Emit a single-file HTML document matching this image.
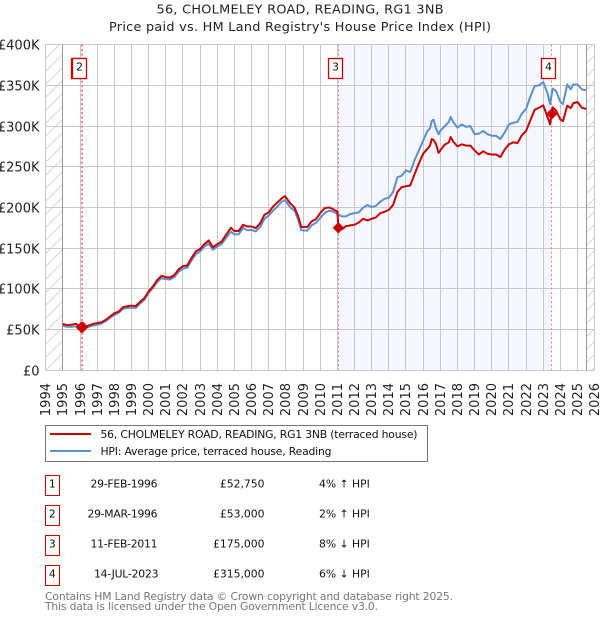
<!DOCTYPE html>
<html>
<head>
<meta charset="utf-8">
<title>56, Cholmeley Road price chart</title>
<style>
html,body{margin:0;padding:0;background:#fff;}
svg{display:block;font-family:"DejaVu Sans","Liberation Sans",sans-serif;}
</style>
</head>
<body>
<svg id="chart" xmlns="http://www.w3.org/2000/svg" width="600" height="620" viewBox="0 0 600 620">
<defs>
<pattern id="hatch" patternUnits="userSpaceOnUse" width="13" height="13">
<path d="M-1 14L14 -1" stroke="#d4d4d4" stroke-width="1" fill="none"/>
</pattern>
</defs>
<text x="300" y="13.5" text-anchor="middle" font-size="12.8" fill="#222" textLength="287" lengthAdjust="spacing">56, CHOLMELEY ROAD, READING, RG1 3NB</text>
<text x="300" y="31" text-anchor="middle" font-size="12.8" fill="#222" textLength="382" lengthAdjust="spacing">Price paid vs. HM Land Registry's House Price Index (HPI)</text>
<g id="plot"></g>

<g>
<rect x="45.5" y="425.5" width="382" height="36" fill="#fff" stroke="#777" stroke-width="1"/>
<line x1="50" x2="91" y1="434" y2="434" stroke="#cc0000" stroke-width="2"/>
<text x="100.5" y="438" font-size="10.8" fill="#111" textLength="317" lengthAdjust="spacing">56, CHOLMELEY ROAD, READING, RG1 3NB (terraced house)</text>
<line x1="50" x2="91" y1="451" y2="451" stroke="#5b8fd1" stroke-width="2"/>
<text x="100.5" y="455" font-size="10.8" fill="#111" textLength="231" lengthAdjust="spacing">HPI: Average price, terraced house, Reading</text>
</g>

<g font-size="10.8" fill="#111">
<g>
<rect x="45.5" y="475.5" width="14" height="20" fill="#fff" stroke="#cc0000" stroke-width="1"/>
<text x="52.3" y="487.5" text-anchor="middle">1</text>
<text x="157.5" y="487.5" text-anchor="end" textLength="67" lengthAdjust="spacing">29-FEB-1996</text>
<text x="264.5" y="487.5" text-anchor="end">£52,750</text>
<text x="319" y="487.5">4% ↑ HPI</text>
</g>
<g>
<rect x="45.5" y="505.5" width="14" height="20" fill="#fff" stroke="#cc0000" stroke-width="1"/>
<text x="52.3" y="517.5" text-anchor="middle">2</text>
<text x="157.5" y="517.5" text-anchor="end" textLength="70" lengthAdjust="spacing">29-MAR-1996</text>
<text x="264.5" y="517.5" text-anchor="end">£53,000</text>
<text x="319" y="517.5">2% ↑ HPI</text>
</g>
<g>
<rect x="45.5" y="535.5" width="14" height="20" fill="#fff" stroke="#cc0000" stroke-width="1"/>
<text x="52.3" y="547.5" text-anchor="middle">3</text>
<text x="157.5" y="547.5" text-anchor="end" textLength="67" lengthAdjust="spacing">11-FEB-2011</text>
<text x="264.5" y="547.5" text-anchor="end">£175,000</text>
<text x="319" y="547.5">8% ↓ HPI</text>
</g>
<g>
<rect x="45.5" y="565.5" width="14" height="20" fill="#fff" stroke="#cc0000" stroke-width="1"/>
<text x="52.3" y="577.5" text-anchor="middle">4</text>
<text x="158.5" y="577.5" text-anchor="end" textLength="64.5" lengthAdjust="spacing">14-JUL-2023</text>
<text x="264.5" y="577.5" text-anchor="end">£315,000</text>
<text x="319" y="577.5">6% ↓ HPI</text>
</g>
</g>

<text x="45" y="600" font-size="10.8" fill="#777" textLength="408" lengthAdjust="spacing">Contains HM Land Registry data © Crown copyright and database right 2025.</text>
<text x="45" y="610" font-size="10.8" fill="#777" textLength="333" lengthAdjust="spacing">This data is licensed under the Open Government Licence v3.0.</text>

<script>
var yearTicks = [1994,1995,1996,1997,1998,1999,2000,2001,2002,2003,2004,2005,2006,2007,2008,2009,2010,2011,2012,2013,2014,2015,2016,2017,2018,2019,2020,2021,2022,2023,2024,2025,2026];
var priceTicks = [0,50,100,150,200,250,300,350,400];
var priceTickLabels = ["£0","£50K","£100K","£150K","£200K","£250K","£300K","£350K","£400K"];
var dataStart = 1995;
var dataEnd = 2025.5;
var dates = [1995,1995.25,1995.5,1995.75,1996,1996.12,1996.25,1996.5,1996.75,1997,1997.25,1997.5,1997.75,1998,1998.25,1998.5,1998.75,1999,1999.25,1999.5,1999.75,2000,2000.25,2000.5,2000.75,2001,2001.25,2001.5,2001.75,2002,2002.25,2002.5,2002.75,2003,2003.25,2003.5,2003.75,2004,2004.25,2004.5,2004.8,2005,2005.25,2005.5,2005.75,2006,2006.25,2006.5,2006.75,2007,2007.25,2007.5,2007.75,2007.95,2008.25,2008.5,2008.7,2008.9,2009.25,2009.5,2009.75,2010,2010.25,2010.5,2010.75,2011,2011.06,2011.25,2011.5,2011.75,2012,2012.25,2012.5,2012.75,2013,2013.25,2013.5,2013.75,2014,2014.25,2014.5,2014.75,2015,2015.25,2015.5,2015.75,2016,2016.25,2016.4,2016.5,2016.6,2016.75,2016.9,2017,2017.25,2017.5,2017.6,2017.75,2018,2018.25,2018.5,2018.75,2019,2019.25,2019.5,2019.75,2020,2020.25,2020.5,2020.75,2021,2021.25,2021.5,2021.75,2022,2022.25,2022.5,2022.75,2023,2023.25,2023.4,2023.55,2023.75,2024,2024.15,2024.4,2024.6,2024.75,2025,2025.25,2025.5];
var pricePaid = [57,55.5,56,57,54.5,52.75,53,55,57,58,59,62,66,70,72,77.5,78.7,79.5,79,84,88.5,97,103,111,116,114.5,114,117,124,128,128.7,138,146,149,155,159.5,151,155,158,166,175,171,171,178.7,176.6,176.6,174.6,180.7,191,194,201,206,211,214,205,200,190,176,176,183,185.6,193,199,200,198,195,175,173,177,178,178.7,181.5,186,184,186,187.7,193,194.7,197,203,219,225,226,227,241,254,266,272,276,284,283,278,267,270,277,280,286.5,281,275,277.5,276,276,270,265,269,266,265,265,262,271,277.5,280,279,288.5,294,307,320,322.5,325.4,311,302,323,319,308,306,325,322,328,329.5,322.5,321];
var hpiIndex = [54.5,53.5,53.5,54,52,50.5,51.5,53.5,55,56,57.5,60.5,64.5,68,70.5,75.5,76.5,77,76.5,82,86.5,95,101,108.5,113,112,111.5,114.5,121,125,126,135,142.5,146,152,155.5,148,152,155,162,170,167,167,175,172,172.5,170.5,176,186,190,196,201,207,209,200,196,186,172,171.5,178,181,187,193,196,195,192,191,189,189,192,193,194,199.7,203,200.5,202,207,210.6,212,219,237,239,245.5,243.5,258,270,282,294,297,306,308,297,290,294,299.6,305,311,305,298,302,299,300,290,290.6,294,290,288,288,284,292,302,304,305,315,321,336,349,350,354,340,327,346,343,329.5,327,351,345,351,351,345,344];
var saleLabels = ["1","2","3","4"];
var saleDates = [1996.08,1996.16,2011.06,2023.5];
var salePrices = [52.75,53,175,315];
var shadedFrom = 2011.06;
var shadedTo = 2023.5;

var NS = "http://www.w3.org/2000/svg";
var plot = document.getElementById("plot");
var X0 = 45.7, X1 = 594.7, Y0 = 370.3, Y1 = 44.6;
function xScale(year){ return X0 + (year - 1994) * (X1 - X0) / 32; }
function yScale(value){ return Y0 - value * (Y0 - Y1) / 400; }
function make(tag, attrs, parent){
  var el = document.createElementNS(NS, tag);
  for (var k in attrs) el.setAttribute(k, attrs[k]);
  (parent || plot).appendChild(el);
  return el;
}
function snap(v){ return Math.round(v - 0.5) + 0.5; }

var shade = make("rect", {x:xScale(shadedFrom), y:Y1, width:xScale(shadedTo)-xScale(shadedFrom), height:Y0-Y1, fill:"#f4f7ff"});



var hatchLeft = make("rect", {x:X0, y:Y1, width:xScale(dataStart)-X0, height:Y0-Y1, fill:"url(#hatch)"});


var hatchRight = make("rect", {x:xScale(dataEnd), y:Y1, width:X1-xScale(dataEnd), height:Y0-Y1, fill:"url(#hatch)"});



yearTicks.forEach(function(year){
  var px = snap(xScale(year));
  var line = make("line", {x1:px, x2:px, y1:Y1, y2:Y0, stroke:"#c8c8c8", "stroke-width":1});
  
  
  var label = make("text", {transform:"translate("+(px+4.5)+",383) rotate(-90)", "text-anchor":"end", "font-size":13, fill:"#222"});
  label.textContent = year;
  
  
});

priceTicks.forEach(function(value, i){
  var py = snap(yScale(value));
  var line = make("line", {x1:X0, x2:X1, y1:py, y2:py, stroke:"#c8c8c8", "stroke-width":1});
  
  
  var label = make("text", {x:39.5, y:py+4.8, "text-anchor":"end", "font-size":13, fill:"#222"});
  label.textContent = priceTickLabels[i];
  
  
});

[dataStart, dataEnd].forEach(function(year){
  var px = snap(xScale(year));
  var line = make("line", {x1:px, x2:px, y1:Y1, y2:Y0, stroke:"#999", "stroke-width":1});
  
  
});

saleDates.forEach(function(year, i){
  var px = snap(xScale(year));
  var line = make("line", {x1:px, x2:px, y1:Y1, y2:Y0, stroke:"#ff7f7f", "stroke-width":1, "stroke-dasharray":"2,2.5"});
  
  
});

function pathFrom(values){
  return values.map(function(v, i){
    return (i ? "L" : "M") + xScale(dates[i]).toFixed(2) + " " + yScale(v).toFixed(2);
  }).join("");
}
var hpiLine = make("path", {d:pathFrom(hpiIndex), fill:"none", stroke:"#5b8fd1", "stroke-width":2, "stroke-linejoin":"round"});


var priceLine = make("path", {d:pathFrom(pricePaid), fill:"none", stroke:"#cc0000", "stroke-width":2, "stroke-linejoin":"round"});



saleDates.forEach(function(year, i){
  var px = xScale(year), py = yScale(salePrices[i]), r = 5;
  var point = make("path", {d:"M"+px+" "+(py-r)+"L"+(px+r)+" "+py+"L"+px+" "+(py+r)+"L"+(px-r)+" "+py+"Z", fill:"#cc0000", stroke:"#cc0000", "stroke-width":1});
  
  
});

saleDates.forEach(function(year, i){
  var px = snap(xScale(year));
  var box = make("rect", {x:px-10, y:58.5, width:14, height:20, fill:"#fff", stroke:"#cc0000", "stroke-width":1.3});
  
  
  var txt = make("text", {x:px-3, y:70.5, "text-anchor":"middle", "font-size":11, fill:"#111"});
  txt.textContent = saleLabels[i];
  
  
});
</script>
</svg>
</body>
</html>
